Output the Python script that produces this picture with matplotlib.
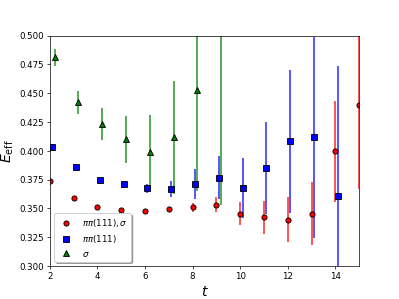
import numpy as np
import matplotlib.pyplot as plt

# effective energies vs t
t_red = np.arange(2, 16)
e_red = [0.374, 0.359, 0.3514, 0.3488, 0.348, 0.3494, 0.351, 0.3534,
         0.3456, 0.3424, 0.3404, 0.3456, 0.3996, 0.440]
err_red = [0.0005, 0.0006, 0.0008, 0.001, 0.0012, 0.002, 0.004, 0.0067,
           0.010, 0.0145, 0.0195, 0.027, 0.044, 0.073]

t_blue = np.arange(2, 15)
e_blue = [0.4033, 0.386, 0.3745, 0.3713, 0.3675, 0.367, 0.3713, 0.3768,
          0.3675, 0.3849, 0.4082, 0.4117, 0.3606]
err_blue = [0.0008, 0.001, 0.0015, 0.002, 0.004, 0.007, 0.013, 0.019,
            0.026, 0.040, 0.062, 0.087, 0.113]

t_green = np.arange(2, 10)
e_green = [0.4812, 0.4423, 0.4232, 0.410, 0.399, 0.4117, 0.4524, 0.56]
err_green = [0.0075, 0.010, 0.014, 0.0206, 0.032, 0.049, 0.087, 0.207]

fig = plt.figure(figsize=(6.4, 4.8), dpi=62.35)
ax = fig.add_subplot(111)

# error bars first, markers on top
ax.errorbar(t_red, e_red, yerr=err_red, fmt='none', ecolor='r', elinewidth=2, alpha=0.75)
ax.errorbar(t_blue + 0.1, e_blue, yerr=err_blue, fmt='none', ecolor='b', elinewidth=2, alpha=0.75)
ax.errorbar(t_green + 0.2, e_green, yerr=err_green, fmt='none', ecolor='g', elinewidth=2, alpha=0.75)

ax.plot(t_red, e_red, 'o', color='r', mec='k', ms=6, label=r'$\pi\pi(111),\sigma$')
ax.plot(t_blue + 0.1, e_blue, 's', color='b', mec='k', ms=6, label=r'$\pi\pi(111)$')
ax.plot(t_green + 0.2, e_green, '^', color='g', mec='k', ms=6, label=r'$\sigma$')

ax.set_xlim(2, 15)
ax.set_ylim(0.3, 0.5)
ax.set_xlabel(r'$t$', fontsize=16)
ax.set_ylabel(r'$E_{\rm eff}$', fontsize=16)
ax.legend(loc='lower left', shadow=True, numpoints=1)

fig.savefig('out.png', dpi=62.35)
